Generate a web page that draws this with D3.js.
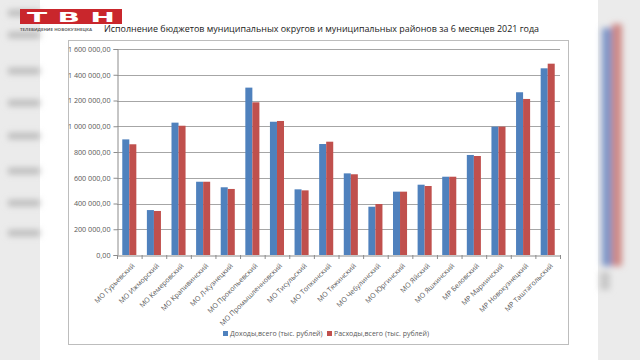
<!DOCTYPE html>
<html><head><meta charset="utf-8">
<script src="https://cdn.jsdelivr.net/npm/d3@7"></script>
<style>
html,body{margin:0;padding:0;background:#fff;}
svg{display:block;font-family:"Open Sans","Noto Sans",sans-serif;}
</style></head>
<body><svg id="c" width="640" height="360"></svg>
<script>
const title = "Исполнение бюджетов муниципальных округов и муниципальных районов за 6 месяцев 2021 года";
const categories = ["МО Гурьевский","МО Ижморский","МО Кемеровский","МО Крапивинский","МО Л-Кузнецкий","МО Прокопьевский","МО Промышленновский","МО Тисульский","МО Топкинский","МО Тяжинский","МО Чебулинский","МО Юргинский","МО Яйский","МО Яшкинский","МР Беловский","МР Мариинский","МР Новокузнецкий","МР Таштагольский"];
const seriesNames = ["Доходы,всего (тыс. рублей)","Расходы,всего (тыс. рублей)"];
const income   = [898000,349000,1028000,569000,526000,1300000,1035000,510000,862000,634000,375000,492000,546000,608000,777000,997000,1264000,1450000];
const expenses = [860000,342000,1004000,569000,513000,1186000,1041000,502000,880000,627000,396000,492000,536000,608000,769000,997000,1212000,1486000];
const yTicks = [0,200000,400000,600000,800000,1000000,1200000,1400000,1600000];
const colors = ["#4f81bd","#c0504d"];

const svg = d3.select("#c");
const defs = svg.append("defs");
defs.append("filter").attr("id","blur").append("feGaussianBlur").attr("stdDeviation",3);

// background video frame
svg.append("rect").attr("width",640).attr("height",360).attr("fill","#ebebeb");
svg.append("rect").attr("x",40).attr("y",0).attr("width",558).attr("height",360).attr("fill","#ffffff");
// blurred ghosts on sides
const ghost = svg.append("g").attr("filter","url(#blur)");
[10,32,68,100,133,168,200,230].forEach(y=>{
  ghost.append("rect").attr("x",8).attr("y",y).attr("width",32).attr("height",6).attr("fill","#b8b8b8");
});
ghost.append("rect").attr("x",602).attr("y",28).attr("width",10).attr("height",238).attr("fill","#7f96c8");
ghost.append("rect").attr("x",612).attr("y",24).attr("width",10).attr("height",242).attr("fill","#cf8a86");
ghost.append("rect").attr("x",600).attr("y",272).attr("width",10).attr("height",18).attr("fill","#c8c8c8");

// chart border
svg.append("rect").attr("x",68.5).attr("y",40.5).attr("width",500).attr("height",304)
  .attr("fill","#fff").attr("stroke","#bdbdbd").attr("stroke-width",1);

// title
svg.append("text").attr("x",104).attr("y",32)
  .attr("font-size",9.6).attr("fill","#1a1a1a").attr("font-weight",500)
  .attr("textLength",435).attr("lengthAdjust","spacingAndGlyphs").text(title);

// scales
const x0 = d3.scaleBand().domain(categories).range([117,560]).padding(0);
const bw = x0.bandwidth();
const x1 = d3.scaleBand().domain(seriesNames).range([bw*0.75/3.5, bw - bw*0.75/3.5]).padding(0);
const y = d3.scaleLinear().domain([0,1600000]).range([255,49]);

const fmt = v => d3.format(",.2f")(v).replace(/,/g," ").replace(".",",");

// gridlines
svg.append("g").selectAll("line").data(yTicks.filter(d=>d>0)).join("line")
  .attr("x1",117).attr("x2",560).attr("y1",d=>Math.round(y(d))+0.5).attr("y2",d=>Math.round(y(d))+0.5)
  .attr("stroke","#a6a6a6").attr("stroke-width",1);

// y axis
const yAxis = svg.append("g").attr("transform","translate(117.5,0)")
  .call(d3.axisLeft(y).tickValues(yTicks).tickFormat(fmt).tickSize(4).tickPadding(3));
yAxis.select(".domain").attr("stroke","#8c8c8c");
yAxis.selectAll(".tick line").attr("stroke","#8c8c8c");
yAxis.selectAll("text").attr("font-size",7.2).attr("fill","#595959").attr("font-family","Open Sans, sans-serif");

// bars
const data = categories.map((c,i)=>({c, vals:[income[i],expenses[i]]}));
const groups = svg.append("g").selectAll("g").data(data).join("g")
  .attr("transform",d=>`translate(${x0(d.c)},0)`);
groups.selectAll("rect").data(d=>d.vals.map((v,j)=>({name:seriesNames[j],v,j}))).join("rect")
  .attr("x",d=>x1(d.name)).attr("width",x1.bandwidth())
  .attr("y",d=>y(d.v)).attr("height",d=>y(0)-y(d.v))
  .attr("fill",d=>colors[d.j]);

// x axis
const xAxis = svg.append("g").attr("transform","translate(0,255.5)")
  .call(d3.axisBottom(x0).tickSize(0).tickPadding(0));
xAxis.select(".domain").attr("stroke","#8c8c8c");
xAxis.selectAll(".tick text").attr("font-size",7).attr("fill","#595959")
  .attr("text-anchor","end").attr("font-family","Open Sans, sans-serif")
  .attr("transform","translate(4,9) rotate(-45)").attr("dy","0.35em");
// category boundary ticks
svg.append("g").selectAll("line").data(d3.range(categories.length+1)).join("line")
  .attr("x1",i=>117+i*bw+0.5).attr("x2",i=>117+i*bw+0.5).attr("y1",255).attr("y2",259)
  .attr("stroke","#8c8c8c");

// legend
const lg = svg.append("g");
const lx = [223,327];
seriesNames.forEach((n,i)=>{
  lg.append("rect").attr("x",lx[i]).attr("y",331).attr("width",5).attr("height",5).attr("fill",colors[i]);
  lg.append("text").attr("x",lx[i]+7).attr("y",336).attr("font-size",7).attr("fill","#595959").text(n);
});

// TV logo
const logo = svg.append("g");
logo.append("rect").attr("x",20).attr("y",9).attr("width",102).attr("height",15).attr("fill","#c9262c");
logo.append("text").attr("x",27).attr("y",21.5).attr("font-size",13.5)
  .attr("font-weight",900).attr("fill","#fff").attr("textLength",88).attr("lengthAdjust","spacingAndGlyphs")
  .attr("font-family","DejaVu Sans, sans-serif").text("Т В Н");
logo.append("text").attr("x",20).attr("y",30.5).attr("font-size",4.2).attr("fill","#666")
  .attr("font-weight",700).attr("textLength",72).attr("lengthAdjust","spacingAndGlyphs").text("ТЕЛЕВИДЕНИЕ НОВОКУЗНЕЦКА");
</script></body></html>
